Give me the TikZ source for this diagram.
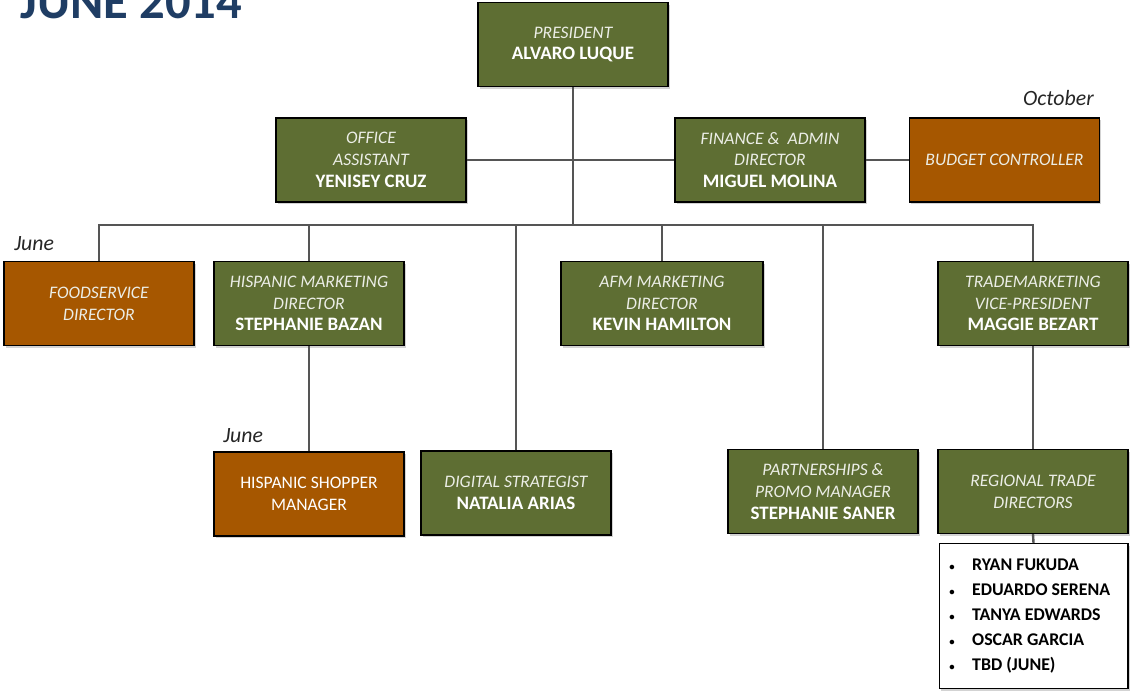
\documentclass[tikz,border=0pt]{standalone}
\usepackage{fontspec}
\setmainfont{Carlito}
\usepackage{xcolor}
\usetikzlibrary{shadows}

\definecolor{olive}{HTML}{5E6E33}
\definecolor{rust}{HTML}{A65700}
\definecolor{navy}{HTML}{1F3D64}
\definecolor{wire}{HTML}{555555}

\newcommand{\role}[1]{{\itshape\color{white!88!olive}#1}}
\newcommand{\who}[1]{{\fontsize{13.5}{15.5}\selectfont\bfseries #1}}

\begin{document}
\begin{tikzpicture}[x=0.025cm,y=-0.025cm,
    post/.style={draw=black, line width=0.8pt, fill=olive, text=white,
        font=\fontsize{12.5}{15.5}\selectfont,
        minimum width=4.75cm, minimum height=2.1cm, align=center,
        inner sep=2pt, drop shadow={shadow xshift=1.2pt, shadow yshift=-1.5pt, opacity=0.35}},
    open/.style={post, fill=rust},
    note/.style={font=\fontsize{15.5}{17}\selectfont\itshape, text=black!85, inner sep=0pt},
    link/.style={draw=wire, line width=1.7pt}]
    \useasboundingbox (0,0) rectangle (1130,692);
    \clip (0,0) rectangle (1130,692);

    % title
    \node[anchor=base west, inner sep=0pt, text=navy, font=\fontsize{36}{38}\selectfont\bfseries] (title) at (20,18) {JUNE 2014};

    % top
    \node[post] (pres) at (573,44.5) {\role{PRESIDENT}\\ \who{ALVARO LUQUE}};
    \node[post] (office) at (371,160) {\role{OFFICE}\\ \role{ASSISTANT}\\ \who{YENISEY CRUZ}};
    \node[post] (fin) at (770,160) {\role{FINANCE \&\ \ ADMIN}\\ \role{DIRECTOR}\\ \who{MIGUEL MOLINA}};
    \node[open] (budget) at (1004.5,160) {\role{BUDGET CONTROLLER}};
    \node[note, anchor=base east] (oct) at (1094,105) {October};

    % second row
    \node[open] (food) at (99,303.5) {\role{FOODSERVICE}\\ \role{DIRECTOR}};
    \node[post] (hisp) at (309,303.5) {\role{HISPANIC MARKETING}\\ \role{DIRECTOR}\\ \who{STEPHANIE BAZAN}};
    \node[post, minimum width=5.05cm] (afm) at (662,303.5) {\role{AFM MARKETING}\\ \role{DIRECTOR}\\ \who{KEVIN HAMILTON}};
    \node[post] (trade) at (1033,303.5) {\role{TRADEMARKETING}\\ \role{VICE-PRESIDENT}\\ \who{MAGGIE BEZART}};
    \node[note, anchor=base west] (june1) at (14,250) {June};

    % third row
    \node[open] (shop) at (309,494) {HISPANIC SHOPPER\\ MANAGER};
    \node[post] (digi) at (516,493) {\role{DIGITAL STRATEGIST}\\ \who{NATALIA ARIAS}};
    \node[post] (promo) at (823,491.5) {\role{PARTNERSHIPS \&}\\ \role{PROMO MANAGER}\\ \who{STEPHANIE SANER}};
    \node[post] (region) at (1033,491.5) {\role{REGIONAL TRADE}\\ \role{DIRECTORS}};
    \node[note, anchor=base west] (june2) at (223,442) {June};

    \node[draw=black, line width=0.8pt, fill=white, minimum width=4.72cm, minimum height=3.62cm,
        drop shadow={shadow xshift=1.2pt, shadow yshift=-1.5pt, opacity=0.35},
        anchor=north, inner sep=0pt] (list) at (1033.5,543) {};
    \node[anchor=north west, align=left, inner sep=0pt,
        font=\fontsize{12.7}{17.8}\selectfont\bfseries] (names) at (949,559)
        {\scalebox{0.6}{\textbullet}\hspace{12.5pt}RYAN FUKUDA\\
         \scalebox{0.6}{\textbullet}\hspace{12.5pt}EDUARDO SERENA\\
         \scalebox{0.6}{\textbullet}\hspace{12.5pt}TANYA EDWARDS\\
         \scalebox{0.6}{\textbullet}\hspace{12.5pt}OSCAR GARCIA\\
         \scalebox{0.6}{\textbullet}\hspace{12.5pt}TBD (JUNE)};

    % connectors
    \coordinate (bus) at (573,225);
    \draw[link] (pres.south) -- (bus);
    \draw[link] (office.east) -- (fin.west);
    \draw[link] (fin.east) -- (budget.west);
    \foreach \n in {food,hisp,afm,digi,promo,trade}
        \draw[link] (\n.north) |- (bus);
    \draw[link] (hisp.south) -- (shop.north);
    \draw[link] (trade.south) -- (region.north);
    \draw[link] (region.south) -- (list.north);
\end{tikzpicture}
\end{document}
